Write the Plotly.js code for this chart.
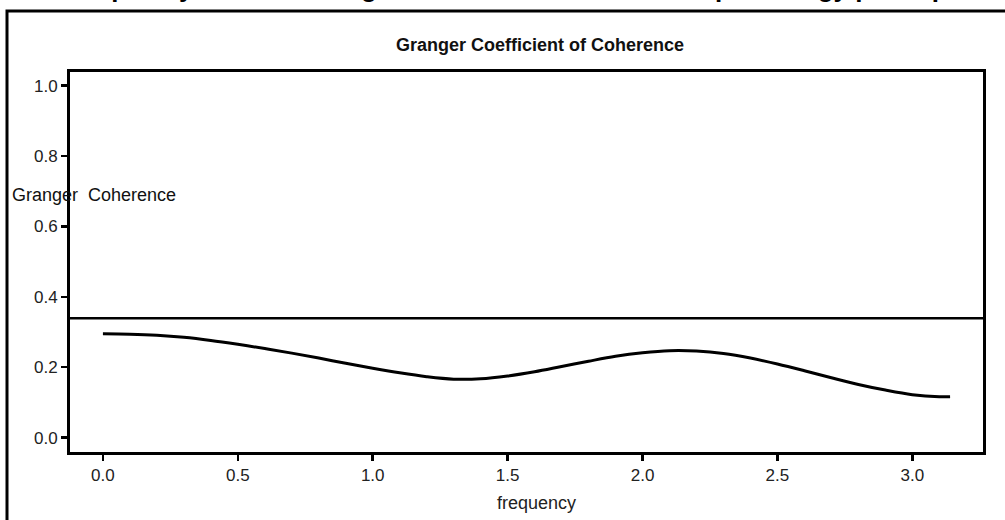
<!DOCTYPE html>
<html>
<head>
<meta charset="utf-8">
<script src="https://cdn.plot.ly/plotly-3.0.1.min.js"></script>
<style>
html,body{margin:0;padding:0;background:#fff;overflow:hidden;}
#chart{width:1005px;height:520px;}
</style>
</head>
<body>
<div id="chart"></div>
<script>
// Data
var frequency = [0.0, 0.1, 0.2, 0.3, 0.4, 0.5, 0.6, 0.7, 0.8, 0.9, 1.0, 1.1, 1.2, 1.3, 1.4, 1.5,
                 1.6, 1.7, 1.8, 1.9, 2.0, 2.1, 2.2, 2.3, 2.4, 2.5, 2.6, 2.7, 2.8, 2.9, 3.0, 3.1, 3.14];
var coherence = [0.295, 0.294, 0.291, 0.285, 0.276, 0.265, 0.253, 0.240, 0.226, 0.211, 0.197, 0.184,
                 0.173, 0.166, 0.167, 0.175, 0.187, 0.202, 0.217, 0.231, 0.241, 0.247, 0.246, 0.239,
                 0.226, 0.209, 0.190, 0.170, 0.151, 0.135, 0.122, 0.116, 0.116];
var thresholdValue = 0.339;
var xTickVals = [0.0, 0.5, 1.0, 1.5, 2.0, 2.5, 3.0];
var xTickText = ["0.0", "0.5", "1.0", "1.5", "2.0", "2.5", "3.0"];
var yTickVals = [0.0, 0.2, 0.4, 0.6, 0.8, 1.0];
var yTickText = ["0.0", "0.2", "0.4", "0.6", "0.8", "1.0"];
var chartTitle = "Granger Coefficient of Coherence";
var xTitle = "frequency";
var yTitle = "Granger&nbsp;&nbsp;Coherence";
var pageHeading = "Frequency domain Granger coefficient of coherence per energy per capita";

var font = "Liberation Sans, Arial, sans-serif";

var traces = [
  {x: frequency, y: coherence, type: "scatter", mode: "lines",
   line: {color: "#000", width: 3, shape: "spline"}, hoverinfo: "skip"},
  {x: [-0.2, 3.4], y: [thresholdValue, thresholdValue], type: "scatter", mode: "lines",
   line: {color: "#000", width: 2.5}, hoverinfo: "skip"}
];

var layout = {
  width: 1005, height: 520,
  margin: {l: 70, r: 22, t: 72, b: 68},
  paper_bgcolor: "#fff", plot_bgcolor: "#fff",
  showlegend: false,
  font: {family: font, size: 17, color: "#000"},
  xaxis: {
    range: [-0.122, 3.262], tickvals: xTickVals, ticktext: xTickText,
    showgrid: false, zeroline: false, showline: true, mirror: true,
    linecolor: "#000", linewidth: 3, ticks: "outside", ticklen: 6, tickwidth: 2.5,
    tickcolor: "#000", tickfont: {family: font, size: 17, color: "#222"}
  },
  yaxis: {
    range: [-0.041, 1.039], tickvals: yTickVals, ticktext: yTickText,
    showgrid: false, zeroline: false, showline: true, mirror: true,
    linecolor: "#000", linewidth: 3, ticks: "outside", ticklen: 6, tickwidth: 2.5,
    tickcolor: "#000", tickfont: {family: font, size: 17, color: "#222"}
  },
  annotations: [
    {text: "<b>" + chartTitle + "</b>", xref: "paper", yref: "paper",
     x: (540 - 70) / 913, y: 1 + (72 - 45) / 380, xanchor: "center", yanchor: "middle",
     showarrow: false, font: {family: font, size: 18, color: "#111"}},
    {text: yTitle, xref: "paper", yref: "paper",
     x: (10 - 70) / 913, y: 1 - (195 - 72) / 380, xanchor: "left", yanchor: "middle",
     showarrow: false, font: {family: font, size: 18, color: "#111"}},
    {text: xTitle, xref: "paper", yref: "paper",
     x: (536 - 70) / 913, y: -(503 - 452) / 380, xanchor: "center", yanchor: "middle",
     showarrow: false, font: {family: font, size: 18, color: "#222"}},
    {text: "<b>" + pageHeading + "</b>", xref: "paper", yref: "paper",
     x: (520 - 70) / 913, y: 1 + (72 - 5) / 380, xanchor: "center", yanchor: "bottom",
     showarrow: false, font: {family: font, size: 26, color: "#000"}}
  ],
  shapes: [
    {type: "rect", xref: "paper", yref: "paper",
     x0: (7 - 70) / 913, x1: (1009 - 70) / 913,
     y0: -0.3, y1: 1 + (72 - 11) / 380,
     line: {color: "#000", width: 3}, fillcolor: "rgba(0,0,0,0)", layer: "above"}
  ]
};

Plotly.newPlot("chart", traces, layout, {displayModeBar: false, staticPlot: true});
</script>
</body>
</html>
